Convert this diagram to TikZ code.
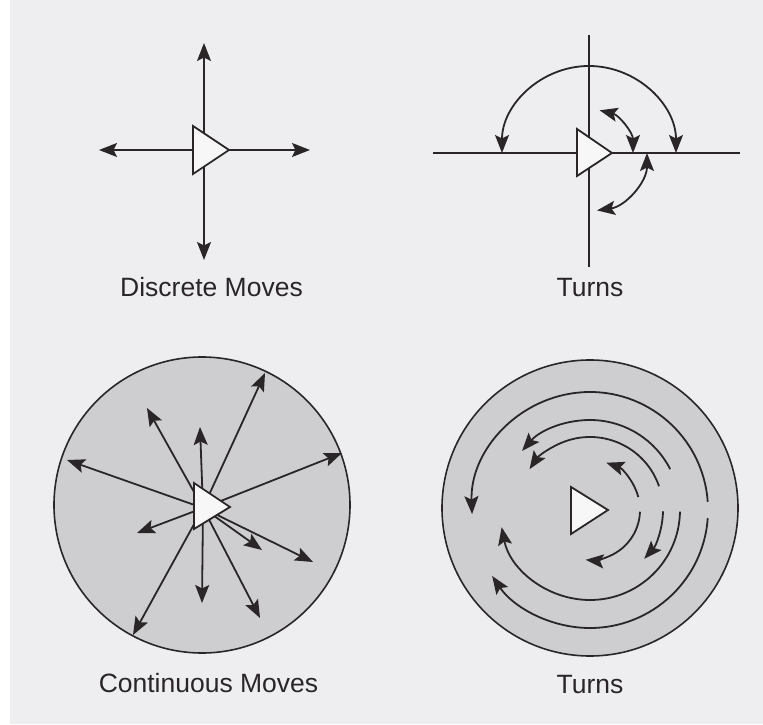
\documentclass[tikz,border=0pt]{standalone}
\usepackage{fontspec}
\setmainfont{Liberation Sans}
\usetikzlibrary{arrows.meta}
\definecolor{ink}{RGB}{42,38,40}
\definecolor{paper}{RGB}{238,238,240}
\definecolor{disc}{RGB}{206,206,208}
\definecolor{agentfill}{RGB}{247,247,247}
\tikzset{
  >={Stealth[length=18pt,width=14pt,inset=3.5pt]},
  axis/.style={draw=ink, line width=1.8pt},
  move/.style={axis, ->},
  twoway/.style={axis, <->},
  rim/.style={draw=ink, fill=disc, line width=1.6pt},
  agent/.style={draw=ink, fill=agentfill, line width=1.8pt, line join=miter},
  caption/.style={text=ink, font=\fontsize{26.5}{30}\selectfont, anchor=base, inner sep=0pt}
}
\begin{document}
\begin{tikzpicture}[x=1pt,y=1pt]
    \useasboundingbox (0,0) rectangle (763,724);
    \fill[paper] (0,0) rectangle (763,724);
    \fill[white] (0,0) rectangle (10,724);

    % discrete moves
    \coordinate (dm) at (204,574);
    \draw[move] (dm) -- (204,681);
    \draw[move] (dm) -- (204,464);
    \draw[move] (dm) -- (99,574);
    \draw[move] (dm) -- (310,574);
    \draw[agent] (193,598) -- (193,550) -- (229,574) -- cycle;
    \node[caption] (dmtext) at (211.5,427) {Discrete Moves};

    % discrete turns
    \coordinate (dt) at (589,571);
    \draw[axis] (589,689) -- (589,457);
    \draw[axis] (433,571) -- (740,571);
    \draw[twoway] (dt) ++(0:87) arc[start angle=0,end angle=180,radius=87];
    \draw[twoway] (dt) ++(0:44) arc[start angle=0,end angle=76,radius=44];
    \draw[twoway] (dt) ++(0:58) arc[start angle=0,end angle=-82,radius=58];
    \draw[agent] (577,595) -- (577,548) -- (612,571) -- cycle;
    \node[caption] (dttext) at (590,427) {Turns};

    % continuous moves
    \coordinate (cm) at (202,219);
    \coordinate (cmo) at (203,216);
    \draw[rim] (cm) circle[radius=148];
    \foreach \x/\y in {265/351, 147/316, 200/297, 67/264, 342/271, 137/191,
                       262/174, 313/162, 202/121, 260/106, 133/89}
        \draw[move] (cmo) -- (\x,\y);
    \draw[agent] (194,241) -- (194,195) -- (230,217) -- cycle;
    \node[caption] (cmtext) at (208.5,32) {Continuous Moves};

    % continuous turns
    \coordinate (ct) at (590,216);
    \coordinate (cto) at (590,214);
    \draw[rim] (ct) circle[radius=148];
    \foreach \r/\a/\b in {50/15/71, 73/19/146, 90/27/139, 118/4/182,
                          50/-2/-95, 73/-1/-42, 90/-1/-169, 118/-4/-146}
        \draw[move] (cto) ++(\a:\r) arc[start angle=\a,end angle=\b,radius=\r];
    \draw[agent] (571,237) -- (571,190) -- (608,214) -- cycle;
    \node[caption] (cttext) at (590,31) {Turns};
\end{tikzpicture}
\end{document}
